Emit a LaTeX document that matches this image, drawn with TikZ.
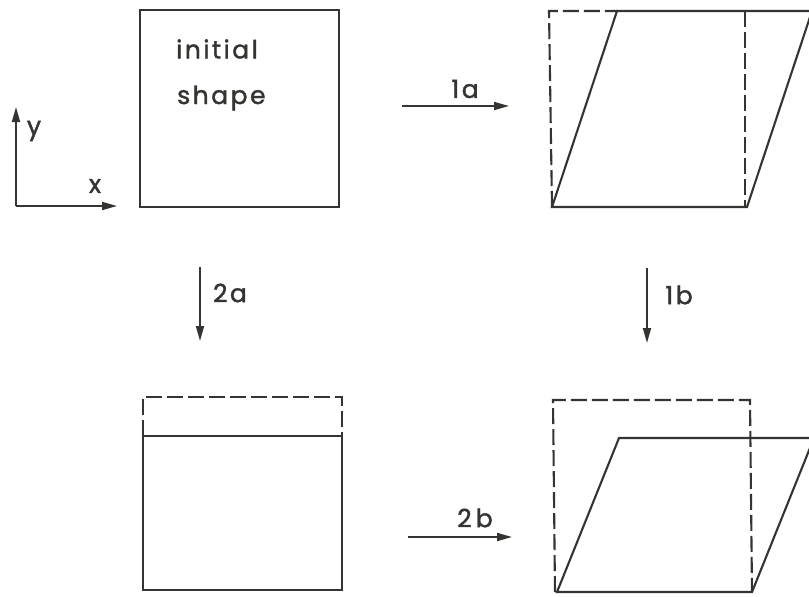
\documentclass[tikz,border=0pt]{standalone}
\usepackage{fontspec}
\setmainfont{Poppins}
\usetikzlibrary{arrows.meta}
\definecolor{ink}{RGB}{52,52,48}
\begin{document}
\begin{tikzpicture}[x=1pt,y=-1pt,
  shape line/.style={draw=ink, line width=2.1pt, line join=miter},
  dashline/.style={draw=ink, line width=2.1pt, dash pattern=on 16pt off 5pt},
  flow/.style={draw=ink, line width=1.8pt, -{Triangle[length=15pt,width=8pt]}},
  lbl/.style={text=ink, font=\fontsize{25}{30}\selectfont\addfontfeatures{LetterSpace=10,FakeBold=1.5}, inner sep=0pt}]
\useasboundingbox (0,0) rectangle (809,597);
\clip (0,0) rectangle (809,597);
\fill[white] (0,0) rectangle (809,597);
% axes
\coordinate (o) at (16,206);
\coordinate (yend) at (16,107);
\coordinate (xend) at (117,206);
\draw[flow] (o) -- (yend);
\draw[flow] (o) -- (xend);
\node[lbl] (ylab) at (34,131) {y};
\node[lbl] (xlab) at (95,186) {x};
% initial shape
\draw[shape line] (140,10) rectangle (339,207);
\node[lbl, anchor=west] (t1) at (176,49) {initial};
\node[lbl, anchor=west] (t2) at (177,98) {shape};
% arrow 1a
\coordinate (a1s) at (402,106);
\coordinate (a1e) at (509,106);
\draw[flow] (a1s) -- (a1e);
\node[lbl] (l1a) at (465,89) {1a};
% top right
\draw[dashline] (552,207) -- (549,11) -- (617,11);
\draw[dashline] (745,11) -- (745,207);
\draw[shape line] (552,207) -- (617,11) -- (812,11) -- (747,207) -- cycle;
% arrow 2a
\coordinate (a2s) at (200,267);
\coordinate (a2e) at (200,341);
\draw[flow] (a2s) -- (a2e);
\node[lbl] (l2a) at (230,293) {2a};
% arrow 1b
\coordinate (b1s) at (647,268);
\coordinate (b1e) at (647,343);
\draw[flow] (b1s) -- (b1e);
\node[lbl] (l1b) at (679,295) {1b};
% bottom left
\draw[dashline] (143,436) -- (143,397) -- (342,397) -- (342,436);
\draw[shape line] (143,436) rectangle (342,590);
% arrow 2b
\coordinate (b2s) at (408,537);
\coordinate (b2e) at (512,537);
\draw[flow] (b2s) -- (b2e);
\node[lbl] (l2b) at (475,518) {2\,b};
% bottom right
\draw[dashline] (555,592) -- (553,400) -- (750,400) -- (752,592);
\draw[shape line] (557,592) -- (619,438) -- (814,438) -- (752,592) -- cycle;
\end{tikzpicture}
\end{document}
